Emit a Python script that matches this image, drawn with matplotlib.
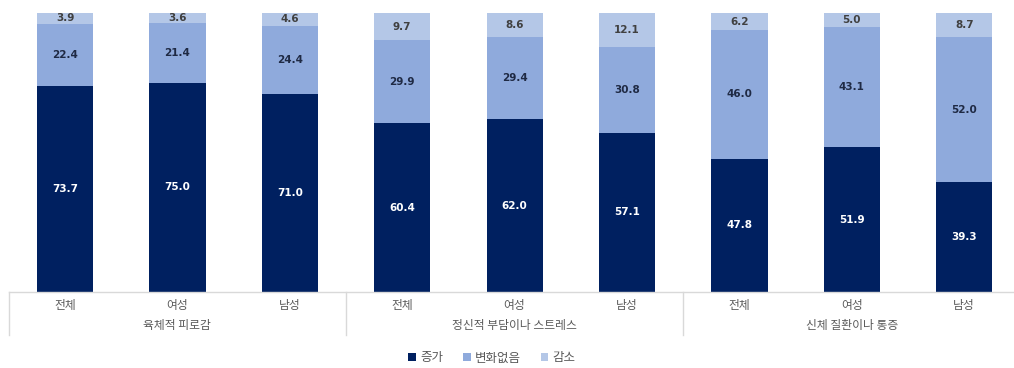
import matplotlib
matplotlib.use("Agg")
import matplotlib.pyplot as plt
from matplotlib.lines import Line2D
from matplotlib.patches import Patch

plt.rcParams['font.family'] = ['Noto Sans CJK KR', 'DejaVu Sans']

groups = ["육체적 피로감", "정신적 부담이나 스트레스", "신체 질환이나 통증"]
subcats = ["전체", "여성", "남성"]
series_names = ["증가", "변화없음", "감소"]
increase = [73.7, 75.0, 71.0, 60.4, 62.0, 57.1, 47.8, 51.9, 39.3]
nochange = [22.4, 21.4, 24.4, 29.9, 29.4, 30.8, 46.0, 43.1, 52.0]
decrease = [3.9, 3.6, 4.6, 9.7, 8.6, 12.1, 6.2, 5.0, 8.7]

colors = ["#002060", "#8FAADC", "#B4C7E7"]
label_colors = ["white", "#1F2A44", "#404040"]

fig = plt.figure(figsize=(10.14, 3.68), dpi=100)
ax = fig.add_axes([8.8/1014, 76/368, 1011.6/1014, 279/368])

n = len(increase)
x = list(range(n))
w = 0.5
bottoms = [0.0] * n
for vals, col, lc in zip([increase, nochange, decrease], colors, label_colors):
    ax.bar(x, vals, width=w, bottom=bottoms, color=col, edgecolor='none')
    for i, v in enumerate(vals):
        ax.text(x[i], bottoms[i] + v / 2, f"{v:.1f}", ha='center', va='center',
                fontsize=7.5, fontweight='bold', color=lc, family=['DejaVu Sans'])
    bottoms = [b + v for b, v in zip(bottoms, vals)]

ax.set_xlim(-0.5, n - 0.5)
ax.set_ylim(0, 100)
for s in ax.spines.values():
    s.set_visible(False)
ax.set_xticks([])
ax.set_yticks([])

trans = ax.get_xaxis_transform()
line_col = "#D9D9D9"
ax.add_line(Line2D([-0.5, n - 0.5], [0, 0], transform=trans, color=line_col, lw=1, clip_on=False))
for gx in [-0.5, 2.5, 5.5, 8.5]:
    ax.add_line(Line2D([gx, gx], [0, -43/279], transform=trans, color=line_col, lw=1, clip_on=False))

for i in range(n):
    ax.text(x[i], -14/279, subcats[i % 3], transform=trans, ha='center', va='center',
            fontsize=8.5, color="#595959")
for g, name in enumerate(groups):
    ax.text(g * 3 + 1, -34/279, name, transform=trans, ha='center', va='center',
            fontsize=8.5, color="#595959")

handles = [Patch(facecolor=c, edgecolor='none') for c in colors]
fig.legend(handles, series_names, loc='center', bbox_to_anchor=(492/1014, 1 - 358/368),
           ncol=3, frameon=False, fontsize=9, handlelength=0.6, handleheight=0.6,
           handletextpad=0.35, columnspacing=1.6, labelcolor="#595959")

fig.savefig("out.png", dpi=100)
